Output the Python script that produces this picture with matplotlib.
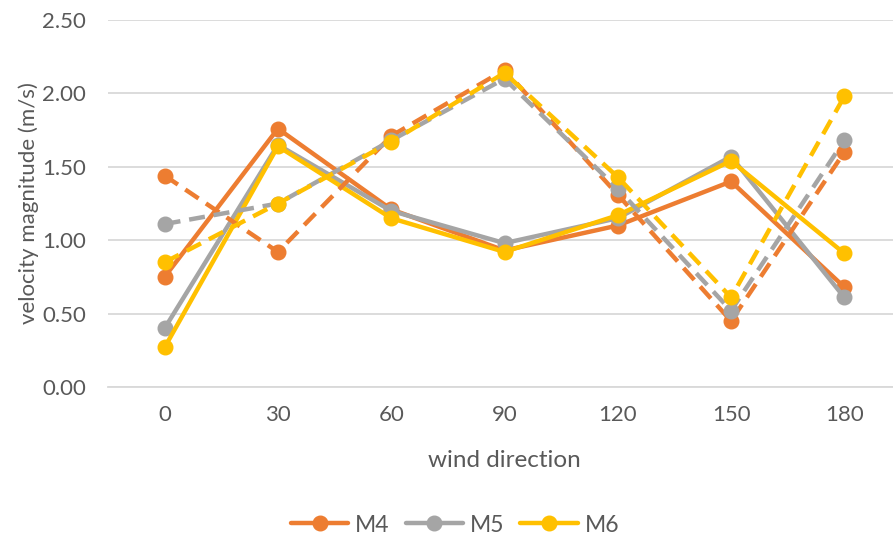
import matplotlib
matplotlib.use("Agg")
import matplotlib.pyplot as plt
import numpy as np

plt.rcParams['font.family'] = ['Lato', 'DejaVu Sans']

categories = ["0", "30", "60", "90", "120", "150", "180"]
series_names = ["M4", "M5", "M6"]
colors = ["#ED7D31", "#A5A5A5", "#FFC000"]

solid_M4 = [0.75, 1.76, 1.21, 0.93, 1.10, 1.40, 0.68]
solid_M5 = [0.40, 1.65, 1.20, 0.98, 1.15, 1.57, 0.61]
solid_M6 = [0.27, 1.64, 1.15, 0.92, 1.17, 1.54, 0.91]

dashed_M4 = [1.44, 0.92, 1.71, 2.16, 1.31, 0.45, 1.60]
dashed_M5 = [1.11, 1.25, 1.68, 2.10, 1.35, 0.52, 1.68]
dashed_M6 = [0.85, 1.25, 1.67, 2.14, 1.43, 0.61, 1.98]

solid = [solid_M4, solid_M5, solid_M6]
dashed = [dashed_M4, dashed_M5, dashed_M6]

text_color = "#595959"
grid_color = "#D9D9D9"

fig = plt.figure(figsize=(8.93, 5.41), dpi=100)
ax = fig.add_axes([108/893, 1 - 387/541, 793/893, 367/541])

x = np.arange(len(categories))
handles = []
for name, vals, c in zip(series_names, solid, colors):
    h, = ax.plot(x, vals, color=c, lw=3.2, marker='o', markersize=10.5,
                 solid_capstyle='round', solid_joinstyle='round', label=name, zorder=3)
    handles.append(h)
for name, vals, c in zip(series_names, dashed, colors):
    ax.plot(x, vals, color=c, lw=3.2, marker='o', markersize=10.5,
            dashes=(3.6, 2.0), dash_capstyle='butt', zorder=4)

ax.set_xlim(-0.5, len(categories) - 0.5)
ax.set_ylim(0, 2.5)
ax.set_yticks(np.arange(0, 2.51, 0.5))
ax.set_yticklabels([f"{v:.2f}" for v in np.arange(0, 2.51, 0.5)])
ax.set_xticks(x)
ax.set_xticklabels(categories)

ax.grid(axis='y', color=grid_color, lw=1.3)
ax.set_axisbelow(True)
for s in ['top', 'right', 'left']:
    ax.spines[s].set_visible(False)
ax.spines['bottom'].set_color(grid_color)
ax.spines['bottom'].set_linewidth(1.3)
ax.tick_params(axis='both', length=0, colors=text_color, labelsize=16)
ax.tick_params(axis='x', pad=13)
ax.tick_params(axis='y', pad=16)

ax.set_xlabel("wind direction", color=text_color, fontsize=17.5, labelpad=18)
ax.set_ylabel("velocity magnitude (m/s)", color=text_color, fontsize=16, labelpad=2)

leg = fig.legend(handles=handles, loc='center', bbox_to_anchor=(455/893, 1 - 525/541),
                 ncol=3, frameon=False, fontsize=16.5, handlelength=2.5,
                 handletextpad=0.3, columnspacing=0.7, labelcolor=text_color)

fig.savefig("out.png", dpi=100)
